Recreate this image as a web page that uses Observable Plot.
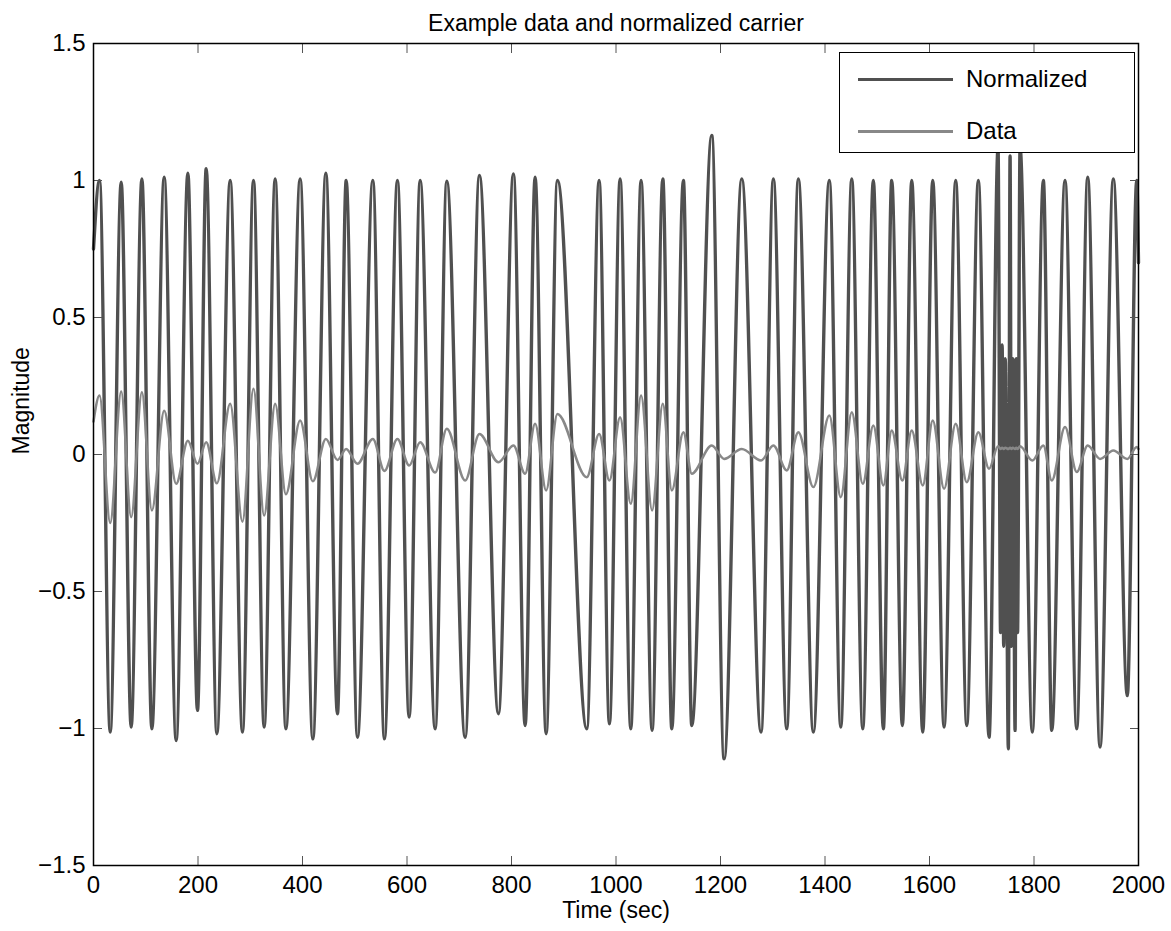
<!DOCTYPE html>
<html>
<head>
<meta charset="utf-8">
<script src="https://cdn.jsdelivr.net/npm/d3@7"></script>
<script src="https://cdn.jsdelivr.net/npm/@observablehq/plot@0.6"></script>
<style>
  body { margin: 0; background: #fff; font-family: "Liberation Sans", Arial, sans-serif; }
  #wrap { position: relative; width: 1171px; height: 931px; }
  #legend { position: absolute; left: 839px; top: 52px; width: 296px; height: 101px; box-sizing: border-box;
            border: 1.5px solid #000; background: #fff; }
  .item { position: absolute; left: 18px; height: 30px; display: flex; align-items: center; }
  .sw { width: 95px; height: 0; border-top-style: solid; margin-right: 13px; }
  .lab { font-size: 24px; color: #000; }
</style>
</head>
<body>
<div id="wrap">
  <div id="chart"></div>
  <div id="legend">
    <div class="item" style="top:11px"><div class="sw" style="border-top-width:3.5px;border-top-color:#505050"></div><span class="lab">Normalized</span></div>
    <div class="item" style="top:63px"><div class="sw" style="border-top-width:3px;border-top-color:#888"></div><span class="lab">Data</span></div>
  </div>
</div>
<script>
// Time (sec) of each turning point
const timeSec = [
  0, 11.5, 32, 53, 72.1, 92.6, 111.7, 135.3, 158.2, 180.6,
  199, 215.7, 236.1, 261.6, 285.1, 306.2, 326.6, 347.7, 368.2, 395.5,
  419.8, 444.7, 466.9, 483.6, 505.2, 534.6, 556.8, 581.7, 604.1, 625.2,
  653.9, 676.2, 711.3, 738.6, 775, 803.7, 826.1, 845.2, 866.3, 887.9,
  944.1, 967.7, 987.4, 1007.9, 1028.3, 1048, 1069.1, 1089.6, 1106.8, 1129,
  1145, 1183.3, 1206.9, 1240.7, 1277.6, 1301.2, 1326.8, 1349, 1377.7, 1408.3,
  1430.2, 1451.2, 1472.3, 1492.5, 1511.7, 1527.7, 1548.1, 1566, 1587.1, 1606.2,
  1627.9, 1650.2, 1671.3, 1693.5, 1714, 1731.2, 1736, 1739, 1742, 1745,
  1750.9, 1754.2, 1757, 1759.5, 1763.8, 1766, 1768.5, 1773.3, 1796.8, 1817.9,
  1834, 1859.4, 1881.8, 1902.8, 1926.4, 1951.8, 1978.6, 1996.6, 2000
];
// "Normalized" carrier values at those times
const normalized = [
  0.75, 1.0, -1.013, 0.994, -0.995, 1.006, -1.001, 1.012, -1.044, 1.027,
  -0.934, 1.043, -1.019, 1.0, -1.013, 1.0, -0.995, 1.006, -1.001, 1.006,
  -1.038, 1.027, -0.946, 1.0, -1.032, 1.0, -1.038, 1.0, -0.958, 1.0,
  -1.001, 0.997, -1.032, 1.018, -0.946, 1.024, -0.989, 1.012, -1.019, 1.0,
  -1.001, 1.0, -0.983, 1.006, -1.001, 1.0, -1.007, 1.006, -1.001, 1.0,
  -0.989, 1.164, -1.111, 1.006, -1.013, 1.006, -1.001, 1.006, -1.013, 1.0,
  -0.995, 1.006, -1.001, 1.0, -1.001, 1.0, -0.989, 1.0, -1.013, 1.0,
  -0.995, 1.0, -0.989, 1.0, -1.032, 1.12, -0.65, 0.4, -0.7, 0.35,
  -1.074, 1.09, -0.7, 0.35, -1.007, 0.35, -0.65, 1.12, -1.013, 1.0,
  -1.007, 1.0, -1.001, 1.012, -1.068, 1.006, -0.88, 1.0, 0.7
];
// "Data" values at those times
const dataVals = [
  0.12, 0.215, -0.25, 0.23, -0.229, 0.227, -0.204, 0.16, -0.107, 0.05,
  -0.034, 0.045, -0.105, 0.185, -0.245, 0.24, -0.223, 0.185, -0.145, 0.124,
  -0.098, 0.057, -0.02, 0.02, -0.034, 0.057, -0.06, 0.057, -0.04, 0.045,
  -0.066, 0.094, -0.095, 0.075, -0.028, 0.033, -0.07, 0.112, -0.131, 0.148,
  -0.083, 0.075, -0.095, 0.136, -0.18, 0.215, -0.204, 0.185, -0.131, 0.081,
  -0.07, 0.033, -0.016, 0.02, -0.022, 0.033, -0.058, 0.081, -0.119, 0.142,
  -0.156, 0.154, -0.107, 0.106, -0.113, 0.088, -0.095, 0.088, -0.113, 0.124,
  -0.125, 0.112, -0.101, 0.081, -0.052, 0.03, 0.02, 0.025, 0.02, 0.025,
  0.02, 0.025, 0.02, 0.025, 0.02, 0.025, 0.02, 0.03, -0.022, 0.033,
  -0.095, 0.1, -0.064, 0.033, -0.016, 0.015, -0.016, 0.027, 0.02
];
const xTicks = [0, 200, 400, 600, 800, 1000, 1200, 1400, 1600, 1800, 2000];
const yTicks = [-1.5, -1, -0.5, 0, 0.5, 1, 1.5];
const titleText = "Example data and normalized carrier";
const xLabel = "Time (sec)";
const yLabel = "Magnitude";

const carrierRows = timeSec.map((t, i) => ({t, v: normalized[i]}));
const dataRows = timeSec.map((t, i) => ({t, v: dataVals[i]}));
const fmtY = d => d < 0 ? "\u2212" + Math.abs(d) : String(d);
const tickColor = "#555";

const chart = Plot.plot({
  width: 1171,
  height: 931,
  marginLeft: 93,
  marginRight: 33,
  marginTop: 43,
  marginBottom: 66,
  style: {fontFamily: "'Liberation Sans', Arial, sans-serif", fontSize: "24px", background: "#fff", color: "#000"},
  x: {domain: [0, 2000]},
  y: {domain: [-1.5, 1.5]},
  marks: [
    Plot.line(carrierRows, {x: "t", y: "v", curve: "monotone-x", stroke: "#505050", strokeWidth: 3.4}),
    Plot.line(dataRows, {x: "t", y: "v", curve: "monotone-x", stroke: "#888", strokeWidth: 2.5}),
    // inward ticks on all four sides
    Plot.axisX(xTicks, {anchor: "bottom", tickSize: 9, dy: -9, tickFormat: () => "", label: null, stroke: tickColor}),
    Plot.axisX(xTicks, {anchor: "top", tickSize: 9, dy: 9, tickFormat: () => "", label: null, stroke: tickColor}),
    Plot.axisY(yTicks, {anchor: "left", tickSize: 9, dx: 9, tickFormat: () => "", label: null, stroke: tickColor}),
    Plot.axisY(yTicks, {anchor: "right", tickSize: 9, dx: -9, tickFormat: () => "", label: null, stroke: tickColor}),
    // tick labels
    Plot.axisX(xTicks, {anchor: "bottom", tickSize: 0, tickPadding: 10, tickFormat: d => String(d), label: null, fill: "#000"}),
    Plot.axisY(yTicks, {anchor: "left", tickSize: 0, tickPadding: 8, tickFormat: fmtY, label: null, fill: "#000"}),
    Plot.frame({stroke: "#000", strokeWidth: 1.5}),
    Plot.text([titleText], {frameAnchor: "top", dy: -29, fontSize: 23, fill: "#000"}),
    Plot.text([xLabel], {frameAnchor: "bottom", dy: 52, fontSize: 23, fill: "#000"}),
    Plot.text([yLabel], {frameAnchor: "left", dx: -72, rotate: -90, fontSize: 23, fill: "#000"})
  ]
});
document.getElementById("chart").appendChild(chart);
</script>
</body>
</html>
